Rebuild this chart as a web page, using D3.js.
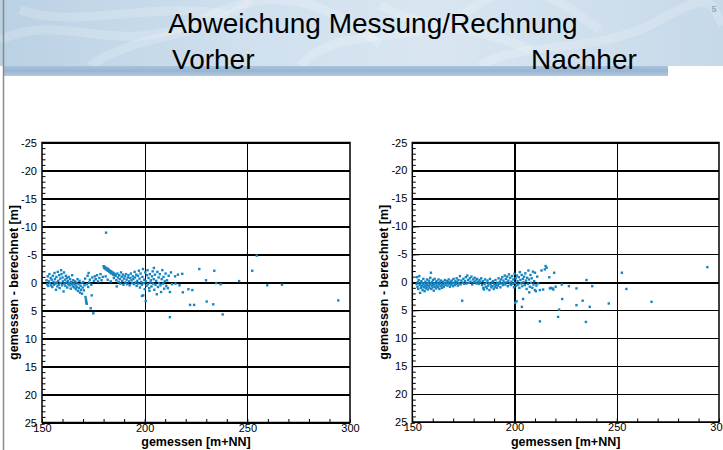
<!DOCTYPE html>
<html>
<head>
<meta charset="utf-8">
<script src="https://cdn.jsdelivr.net/npm/d3@7"></script>
<style>
  body { margin: 0; background: #fff; }
  svg { display: block; font-family: "Liberation Sans", Arial, sans-serif; }
</style>
</head>
<body>
<div class="container"></div>
<script>
var w = 723;
var h = 450;

// slide texts
const titleText = "Abweichung Messung/Rechnung";
const panelTitles = ["Vorher", "Nachher"];
const pageNumber = "5";
const xLabel = "gemessen [m+NN]";
const yLabel = "gemessen - berechnet [m]";

// axes
const xDomain = [150, 300];
const yDomain = [-25, 25];
const xTicks = [150, 200, 250, 300];
const yTicks = [-25, -20, -15, -10, -5, 0, 5, 10, 15, 20, 25];

// [gemessen, gemessen - berechnet]
const vorher = [
  [152.2,-0.4],[152.5,0.3],[152.8,-1.1],[153.0,0.6],[153.3,-0.2],[153.6,-1.5],[153.9,0.1],[154.2,-0.8],[154.4,0.5],[154.7,-0.5],[155.0,0.8],[155.3,-1.2],[155.6,-0.1],[155.8,0.4],
  [156.1,-1.7],[156.3,-0.6],[156.5,0.2],[156.8,1.3],[157.0,-1.0],[157.2,0.0],[157.5,0.7],[157.7,-1.9],[157.9,-0.3],[158.2,0.4],[158.4,-1.3],[158.6,1.0],[158.9,-0.7],[159.1,0.1],[159.3,-2.2],[159.5,-1.5],[159.8,0.5],[160.0,-0.9],[160.2,-0.2],[160.5,1.6],[160.7,-1.8],[160.9,0.2],
  [161.2,-0.5],[161.4,0.6],[161.6,-1.2],[161.9,0.0],[162.1,-0.8],[162.3,0.9],[162.6,-0.3],[162.8,0.3],[163.0,-1.0],[163.3,0.1],[163.5,0.5],[163.7,-0.6],[164.0,1.1],[164.2,-0.1],[164.5,0.3],[164.7,-1.3],[165.0,0.7],[165.2,-0.4],[165.5,0.2],[165.8,0.9],
  [166.0,-0.2],[166.3,0.5],[166.5,1.2],[166.8,0.0],[167.0,0.8],[167.3,-0.6],[167.5,1.5],[167.8,0.3],[168.0,1.0],[168.3,-0.3],[168.5,1.8],[168.8,0.6],[169.0,1.3],[169.3,0.1],[169.5,2.0],[169.8,0.9],[170.1,-0.1],[170.4,1.4],[170.7,0.5],
  [171.0,-0.7],[171.2,2.6],[171.4,3.0],[171.5,3.3],[171.6,3.6],[171.8,3.8],[171.9,0.3],[172.2,-1.2],[172.5,0.8],[172.7,-1.7],[173.0,0.0],[173.3,-0.5],[173.7,4.6],[174.0,0.4],[174.2,2.3],[174.5,-0.9],[175.0,5.5],[175.3,-0.3],[175.7,-1.1],
  [176.2,-0.6],[176.8,-1.3],[177.3,-0.2],[177.9,-0.8],[178.5,-1.5],[179.0,-0.4],[179.6,-1.0],
  [180.0,-2.9],[180.3,-2.6],[180.6,-2.8],[180.9,-2.4],[181.2,-8.9],[181.3,-2.6],[181.6,-2.2],[181.9,-2.5],[182.2,-2.1],[182.5,-2.3],[182.8,-1.9],[183.1,-2.1],[183.4,-1.7],[183.7,-2.0],[184.0,-1.6],[184.3,-1.8],[184.6,-1.4],[184.9,-1.7],[185.2,-1.3],[185.5,-1.5],[182.0,-0.5],[183.5,-0.2],[185.0,-0.8],[181.0,-1.1],
  [185.9,-1.2],[186.2,-0.4],[186.4,0.7],[186.7,-1.6],[187.0,-0.9],[187.3,-0.1],[187.6,-1.3],[187.9,-0.6],[188.2,0.2],[188.5,-1.8],[188.8,-1.0],[189.1,-0.3],[189.4,-1.4],[189.7,0.4],[190.0,-0.7],[190.3,-1.1],[190.6,0.0],[190.9,-1.5],[191.2,-0.5],[191.5,0.3],[191.8,-0.9],[192.1,-1.3],[192.4,-0.2],[192.7,0.5],[193.0,-0.8],[193.3,-1.6],[193.6,-0.4],[193.9,0.1],[194.2,-1.1],[194.5,-0.6],[194.8,0.3],
  [195.1,-1.9],[195.3,-0.9],[195.6,0.0],[195.9,-1.4],[196.1,0.6],[196.4,-0.3],[196.7,-1.2],[196.9,0.2],[197.2,-2.1],[197.5,-0.7],[197.7,0.9],[198.0,-1.6],[198.3,-0.1],[198.6,0.4],[198.7,2.4],[198.9,-1.0],[199.2,-2.4],[199.3,2.3],[199.5,0.1],[199.8,-0.5],[200.0,1.2],[200.3,-1.8],[200.5,3.3],[200.6,-0.2],[200.9,0.6],[201.1,-1.3],[201.4,-2.2],[201.6,0.3],[201.9,-0.8],[202.2,1.0],[202.3,1.5],[202.5,-1.5],[202.8,0.0],[203.0,-0.4],[203.3,0.7],[203.6,-1.1],[203.9,-2.0],[204.1,0.2],[204.4,-0.6],[204.5,-2.6],[204.7,1.3],
  [205.0,-1.4],[205.3,0.4],[205.6,-0.3],[205.9,2.1],[206.2,-1.9],[206.5,0.8],[206.8,-0.9],[207.1,0.1],[207.4,-1.5],[207.7,0.5],[208.0,1.7],[208.3,-0.6],[208.6,-2.2],[208.9,0.2],[209.2,-1.0],[209.5,1.1],[209.8,-0.2],[210.2,-1.6],[210.5,0.6],[210.9,-0.4],[211.3,1.0],[211.7,-1.2],
  [212.3,1.7],[212.3,6.2],[212.8,-1.8],[213.3,0.3],[214.8,-1.1],[215.0,0.2],[216.2,-1.4],[217.0,0.5],[218.3,-1.55],[218.6,1.75],[221.3,1.2],[222.1,4.0],[223.2,1.35],[224.1,4.0],
  [226.6,-2.4],[229.9,-0.4],[230.2,3.4],[233.4,3.9],[233.9,-2.1],[234.9,0.1],[237.0,0.3],[238.0,5.7],[246.0,-0.25],[252.4,-2.1],[254.6,-4.8],[259.7,0.5],[266.9,0.4],[294.3,3.2]
];

const nachher = [
  [152.1,0.3],[152.3,-0.9],[152.5,0.8],[152.7,0.0],[152.9,1.2],[153.1,-0.4],[153.4,-1.1],[153.6,0.5],[153.8,1.9],[154.0,0.2],[154.2,1.0],[154.4,-0.2],[154.6,0.7],[154.8,0.1],[155.0,1.4],[155.2,0.4],[155.4,-0.6],[155.6,0.9],[155.8,0.2],[156.0,1.6],[156.2,0.6],[156.4,-0.1],[156.6,1.1],[156.8,0.3],[157.0,0.8],[157.2,-0.5],[157.4,0.5],[157.6,1.3],[157.8,0.1],
  [158.0,0.7],[158.2,-0.3],[158.4,1.0],[158.6,0.4],[158.8,-0.8],[159.0,0.2],[159.1,-1.7],[159.3,1.2],[159.5,0.6],[159.7,0.0],[159.9,0.9],[160.1,-0.4],[160.3,0.5],[160.5,1.5],[160.7,0.2],[160.9,-0.6],[161.1,0.8],[161.3,0.3],[161.6,1.1],[161.8,-0.2],[162.0,0.6],[162.3,0.1],[162.5,0.9],[162.8,-0.5],[163.0,0.4],[163.3,1.2],[163.5,0.0],[163.8,0.7],[164.0,-0.3],[164.3,0.3],[164.6,1.0],[164.8,0.5],[165.1,-0.1],[165.4,0.8],[165.7,0.2],
  [166.0,-0.4],[166.3,0.5],[166.6,0.1],[166.9,-0.2],[167.2,0.6],[167.5,0.0],[167.8,-0.5],[168.1,0.3],[168.4,0.8],[168.7,-0.1],[169.0,0.4],[169.3,-0.3],[169.6,0.2],[169.9,0.7],[170.2,-0.6],[170.5,0.1],[170.8,0.5],[171.1,-0.2],[171.4,0.3],[171.7,-0.7],[172.0,0.0],[172.3,0.6],[172.6,-0.4],[172.9,0.2],[173.3,-1.1],[173.6,0.4],[174.0,-0.3],[174.4,3.3],[174.6,0.1],
  [175.0,-0.6],[175.4,0.3],[175.8,-0.2],[176.2,-0.9],[176.6,0.2],[176.9,-1.2],[177.3,-0.4],[177.7,0.1],[178.1,-0.7],[178.5,-0.1],[178.9,-1.0],[179.3,0.4],[179.7,-0.5],[180.1,0.0],[180.5,-0.8],[180.9,-0.3],[181.3,0.2],[181.7,-0.6],[182.1,-0.1],[182.5,0.3],[182.9,-0.4],[183.3,0.0],[183.7,-0.7],[184.1,0.5],[184.5,-0.2],[184.7,1.0],
  [185.0,1.3],[185.3,0.3],[185.6,-0.5],[185.9,0.8],[186.2,0.1],[186.5,1.1],[186.8,-0.3],[187.1,0.6],[187.4,0.2],[187.7,1.4],[188.0,-0.6],[188.3,0.4],[188.6,0.9],[188.9,0.0],[189.2,0.7],[189.5,-0.2],[189.8,1.2],[190.1,0.3],[190.4,0.8],[190.7,-0.4],[191.0,0.5],[191.3,1.0],[191.6,0.1],[191.9,0.6],[192.2,-0.7],[192.5,0.3],[192.8,-0.1],[193.1,0.9],[193.4,-0.5],[193.7,0.2],[194.0,-0.9],[194.3,0.5],[194.6,-0.3],[194.9,0.1],
  [195.2,-1.2],[195.5,0.4],[195.8,-0.6],[196.1,0.0],[196.4,-1.0],[196.7,0.7],[197.0,-0.3],[197.3,-1.4],[197.6,0.2],[197.9,-0.8],[198.2,0.5],[198.5,-0.1],[198.8,-1.1],[199.1,0.3],[199.4,-0.5],[199.7,0.9],[200.0,-1.5],[200.3,0.1],[200.3,3.7],[200.6,-0.7],[200.9,0.6],[201.0,3.4],[201.2,-1.2],[201.5,-0.2],[201.8,0.4],[202.1,-0.9],[202.4,1.0],[202.6,-1.8],[202.9,-0.4],[203.2,0.2],[203.5,-1.3],[203.6,4.4],[203.8,0.7],[204.1,-0.6],[204.2,3.0],[204.4,0.0],[204.7,-1.0],
  [205.0,0.5],[205.3,-1.6],[205.6,-0.3],[205.9,1.2],[206.2,-0.8],[206.5,0.3],[206.8,-2.1],[207.2,1.8],[207.1,-0.5],[207.5,0.8],[207.8,-1.3],[208.1,0.1],[208.4,-0.7],[208.7,1.0],[209.0,-1.9],[209.3,0.4],[209.6,-0.2],[210.0,-1.7],[210.0,1.4],[210.4,1.6],[210.7,0.6],[211.1,-1.0],[211.5,0.2],
  [212.4,1.4],[212.4,7.0],[213.2,-2.1],[214.0,1.3],[214.8,-2.3],[215.2,-2.9],[215.7,-2.6],[217.0,-0.9],[217.3,1.1],[217.8,1.0],[218.6,1.1],[219.0,1.3],[219.4,-1.7],[220.1,0.8],[221.3,6.2],[221.8,4.9],[223.1,0.4],[223.3,3.0],
  [226.6,0.7],[230.3,1.1],[230.3,4.1],[233.3,3.3],[234.9,7.1],[235.2,-0.4],[236.8,4.4],[238.0,0.7],[246.1,3.8],[252.5,-1.7],[254.7,1.2],[267.0,3.5],[294.3,-2.7]
];

const panels = [
  { data: vorher, left: 42, right: 350, top: 142.5, bottom: 422.5, labelX: 13 },
  { data: nachher, left: 412.3, right: 719, top: 142.5, bottom: 422, labelX: 383 }
];

var svg = d3.select(".container").append("svg")
  .attr("width", w)
  .attr("height", h);

// banner background
const defs = svg.append("defs");
const bg = defs.append("linearGradient").attr("id", "bannerGrad")
  .attr("x1", "0%").attr("x2", "100%").attr("y1", "0%").attr("y2", "0%");
bg.append("stop").attr("offset", "0%").attr("stop-color", "#bad1e4");
bg.append("stop").attr("offset", "35%").attr("stop-color", "#d0e0ee");
bg.append("stop").attr("offset", "60%").attr("stop-color", "#d9e6f1");
bg.append("stop").attr("offset", "100%").attr("stop-color", "#c6d9e9");

svg.append("rect")
  .attr("x", 0).attr("y", 0).attr("width", w).attr("height", 66)
  .attr("fill", "url(#bannerGrad)");

// watery swirls
const swirls = [
  "M0,40 C60,10 120,60 200,20 S330,5 380,45",
  "M90,66 C140,30 210,40 250,0",
  "M300,66 C340,20 420,50 470,10 S560,0 600,30",
  "M480,66 C520,40 600,55 660,20 S710,10 723,25",
  "M20,10 C80,30 150,0 230,15",
  "M380,5 C420,30 480,25 530,50"
];
svg.append("g").selectAll("path").data(swirls).enter().append("path")
  .attr("d", d => d)
  .attr("fill", "none")
  .attr("stroke", "#ffffff")
  .attr("stroke-opacity", 0.18)
  .attr("stroke-width", 9);

// darker strip under the banner
const strip = defs.append("linearGradient").attr("id", "stripGrad")
  .attr("x1", "0%").attr("x2", "0%").attr("y1", "0%").attr("y2", "100%");
strip.append("stop").attr("offset", "0%").attr("stop-color", "#a9c3dc");
strip.append("stop").attr("offset", "50%").attr("stop-color", "#97b5d2");
strip.append("stop").attr("offset", "100%").attr("stop-color", "#b3cade");
svg.append("rect")
  .attr("x", 4).attr("y", 66).attr("width", 664).attr("height", 10)
  .attr("fill", "url(#stripGrad)");

// left page edge
svg.append("line")
  .attr("x1", 3.5).attr("x2", 3.5).attr("y1", 0).attr("y2", h)
  .attr("stroke", "#8a8a8a").attr("stroke-width", 1.5);

// titles
svg.append("text")
  .attr("x", 373).attr("y", 33)
  .attr("text-anchor", "middle")
  .attr("font-size", 28)
  .attr("fill", "#000")
  .text(titleText);

svg.append("text").attr("x", 172).attr("y", 69)
  .attr("font-size", 28).attr("fill", "#000").text(panelTitles[0]);
svg.append("text").attr("x", 531).attr("y", 69)
  .attr("font-size", 28).attr("fill", "#000").text(panelTitles[1]);

svg.append("text").attr("x", 714).attr("y", 12)
  .attr("text-anchor", "middle")
  .attr("font-size", 9).attr("font-weight", "bold")
  .attr("fill", "#9aa8b8").text(pageNumber);

panels.forEach(function (p) {
  var xScale = d3.scaleLinear().domain(xDomain).range([p.left, p.right]);
  var yScale = d3.scaleLinear().domain(yDomain).range([p.top, p.bottom]);
  var pw = p.right - p.left;
  var ph = p.bottom - p.top;

  var g = svg.append("g");

  // horizontal grid
  g.append("g")
    .attr("transform", "translate(" + p.left + ",0)")
    .call(d3.axisLeft(yScale).tickValues(yTicks).tickSize(-pw).tickFormat(""))
    .call(s => s.select(".domain").remove())
    .selectAll("line")
    .attr("stroke", "#000")
    .attr("shape-rendering", "crispEdges")
    .attr("stroke-width", d => d === 0 ? 2 : 1.2);

  // vertical grid
  g.append("g")
    .attr("transform", "translate(0," + p.bottom + ")")
    .call(d3.axisBottom(xScale).tickValues([200, 250]).tickSize(-ph).tickFormat(""))
    .call(s => s.select(".domain").remove())
    .selectAll("line")
    .attr("stroke", "#000")
    .attr("shape-rendering", "crispEdges")
    .attr("stroke-width", 1.2);

  // minor ticks y
  g.append("g")
    .attr("transform", "translate(" + p.left + ",0)")
    .call(d3.axisLeft(yScale).tickValues(d3.range(-25, 26, 1)).tickSize(-3.5).tickFormat(""))
    .call(s => s.select(".domain").remove())
    .selectAll("line").attr("stroke", "#000");

  // major ticks + labels y
  g.append("g")
    .attr("transform", "translate(" + p.left + ",0)")
    .call(d3.axisLeft(yScale).tickValues(yTicks).tickSizeInner(-7).tickSizeOuter(0).tickPadding(5).tickFormat(d => String(d)))
    .call(s => s.select(".domain").remove())
    .call(s => s.selectAll("line").attr("stroke", "#000"))
    .selectAll("text")
    .attr("font-size", 11)
    .attr("font-family", "Liberation Sans, Arial, sans-serif")
    .attr("fill", "#000");

  // minor ticks x
  g.append("g")
    .attr("transform", "translate(0," + p.bottom + ")")
    .call(d3.axisBottom(xScale).tickValues(d3.range(150, 301, 10)).tickSize(-3.5).tickFormat(""))
    .call(s => s.select(".domain").remove())
    .selectAll("line").attr("stroke", "#000");

  // x labels
  g.append("g")
    .attr("transform", "translate(0," + p.bottom + ")")
    .call(d3.axisBottom(xScale).tickValues(xTicks).tickSize(0).tickPadding(1.5).tickFormat(d => String(d)))
    .call(s => s.select(".domain").remove())
    .selectAll("text")
    .attr("font-size", 11)
    .attr("font-family", "Liberation Sans, Arial, sans-serif")
    .attr("fill", "#000");

  // frame
  g.append("rect")
    .attr("x", p.left).attr("y", p.top)
    .attr("width", pw).attr("height", ph)
    .attr("fill", "none")
    .attr("stroke", "#000")
    .attr("stroke-width", 1.5);

  // points
  g.append("g").selectAll("rect")
    .data(p.data)
    .enter()
    .append("rect")
    .attr("x", d => xScale(d[0]) - 1.2)
    .attr("y", d => yScale(d[1]) - 1.2)
    .attr("width", 2.4)
    .attr("height", 2.4)
    .attr("fill", "#1585c2");

  // axis titles
  g.append("text")
    .attr("x", (p.left + p.right) / 2)
    .attr("y", 446)
    .attr("text-anchor", "middle")
    .attr("font-size", 12.5)
    .attr("font-weight", "bold")
    .text(xLabel);

  g.append("text")
    .attr("transform", "translate(" + (p.labelX + 4.5) + "," + ((p.top + p.bottom) / 2) + ") rotate(-90)")
    .attr("text-anchor", "middle")
    .attr("font-size", 12.5)
    .attr("font-weight", "bold")
    .text(yLabel);
});
</script>
</body>
</html>
